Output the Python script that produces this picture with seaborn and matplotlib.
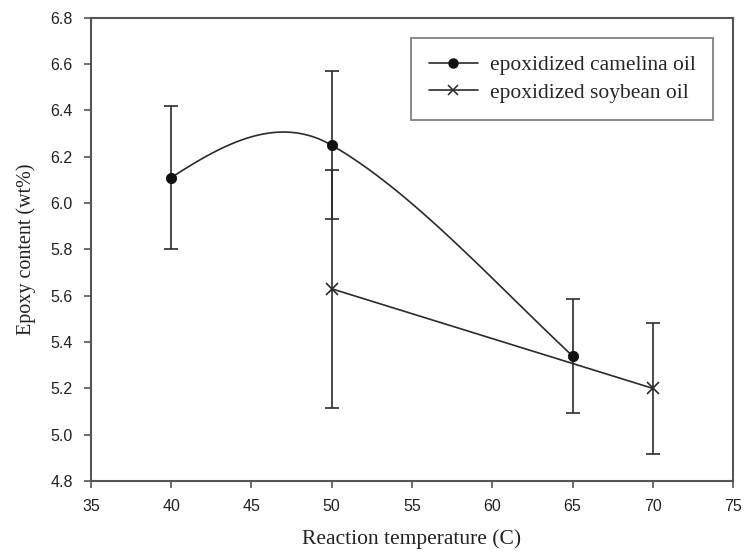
import numpy as np
import pandas as pd
import matplotlib
matplotlib.use("Agg")
import matplotlib.pyplot as plt
from matplotlib.lines import Line2D
import seaborn as sns

# ---- data ----
camelina_temp = [40, 50, 65]
camelina_epoxy = [6.11, 6.25, 5.34]
camelina_err = [0.31, 0.32, 0.245]

soybean_temp = [50, 70]
soybean_epoxy = [5.63, 5.20]
soybean_err = [0.515, 0.283]

x_ticks = [35, 40, 45, 50, 55, 60, 65, 70, 75]
y_ticks = [4.8, 5.0, 5.2, 5.4, 5.6, 5.8, 6.0, 6.2, 6.4, 6.6, 6.8]

series_names = ["epoxidized camelina oil", "epoxidized soybean oil"]


def smooth_curve(xs, ys, slopes, n=60):
    """Cubic Hermite rendering of a spline through the data points."""
    out_x, out_y = [], []
    for i in range(len(xs) - 1):
        h = xs[i + 1] - xs[i]
        t = np.linspace(0, 1, n)
        h00 = 2 * t**3 - 3 * t**2 + 1
        h10 = t**3 - 2 * t**2 + t
        h01 = -2 * t**3 + 3 * t**2
        h11 = t**3 - t**2
        yy = h00 * ys[i] + h10 * h * slopes[i] + h01 * ys[i + 1] + h11 * h * slopes[i + 1]
        out_x.extend(xs[i] + t * h)
        out_y.extend(yy)
    return np.array(out_x), np.array(out_y)


sns.set_style("ticks")
plt.rcParams["font.family"] = ["Liberation Sans", "DejaVu Sans"]

fig = plt.figure(figsize=(7.45, 5.58), dpi=100)
ax = fig.add_axes([0.122, 0.138, 0.862, 0.830])

line_col = "#2b2b2b"

# camelina smooth curve
cx, cy = smooth_curve(camelina_temp, camelina_epoxy, [0.045, -0.04, -0.065])
curve_df = pd.DataFrame({"x": cx, "y": cy})
sns.lineplot(data=curve_df, x="x", y="y", ax=ax, color=line_col, lw=1.2,
             estimator=None, sort=False)

cam_df = pd.DataFrame({"x": camelina_temp, "y": camelina_epoxy})
ax.errorbar(camelina_temp, camelina_epoxy, yerr=camelina_err, fmt="none",
            ecolor=line_col, elinewidth=1.2, capsize=5, capthick=1.2, zorder=2)
sns.scatterplot(data=cam_df, x="x", y="y", ax=ax, color="#111111", s=55,
                marker="o", edgecolor="#111111", zorder=4)

# soybean
soy_df = pd.DataFrame({"x": soybean_temp, "y": soybean_epoxy})
ax.errorbar(soybean_temp, soybean_epoxy, yerr=soybean_err, fmt="none",
            ecolor=line_col, elinewidth=1.2, capsize=5, capthick=1.2, zorder=2)
sns.lineplot(data=soy_df, x="x", y="y", ax=ax, color=line_col, lw=1.2,
             marker="x", markersize=8, markeredgewidth=1.2,
             markeredgecolor=line_col, estimator=None)

ax.set_xlim(35, 75)
ax.set_ylim(4.8, 6.8)
ax.set_xticks(x_ticks)
ax.set_yticks(y_ticks)
ax.set_xticklabels([str(v) for v in x_ticks])
ax.set_yticklabels([f"{v:.1f}" for v in y_ticks])
ax.tick_params(axis="both", direction="out", length=5, width=1.2,
               color="#555555", labelsize=11.5, labelcolor="#222222", pad=8)
ax.tick_params(top=False, right=False)
for sp in ax.spines.values():
    sp.set_visible(True)
    sp.set_color("#555555")
    sp.set_linewidth(1.5)

serif = ["Liberation Serif", "DejaVu Serif"]
ax.set_xlabel("Reaction temperature (C)", family=serif, fontsize=15.5,
              color="#222222", labelpad=11)
ax.set_ylabel("Epoxy content (wt%)", family=serif, fontsize=14.5,
              color="#222222", labelpad=10)

handles = [
    Line2D([], [], color=line_col, lw=1.2, marker="o", markersize=6.5,
           markerfacecolor="#111111", markeredgecolor="#111111"),
    Line2D([], [], color=line_col, lw=1.2, marker="x", markersize=7,
           markeredgewidth=1.1, markeredgecolor=line_col),
]
leg = ax.legend(handles, series_names, loc="upper right",
                bbox_to_anchor=(0.969, 0.957), frameon=True, fancybox=False,
                prop={"family": serif, "size": 15.5}, handlelength=2.3,
                borderpad=0.8, labelspacing=0.35, handletextpad=0.55,
                borderaxespad=0)
leg.get_frame().set_edgecolor("#555555")
leg.get_frame().set_linewidth(1.2)

fig.savefig("out.png", dpi=100)
